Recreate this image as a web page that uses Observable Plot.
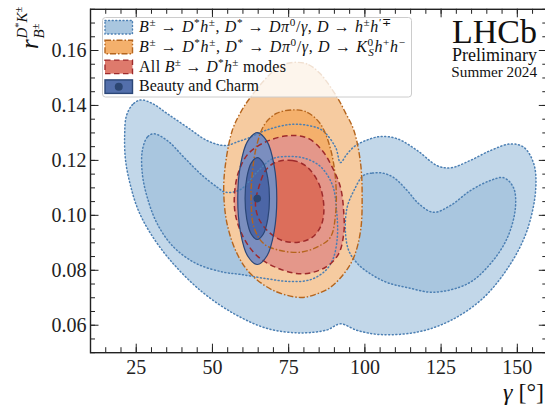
<!DOCTYPE html>
<html><head><meta charset="utf-8">
<script src="https://cdn.jsdelivr.net/npm/d3@7"></script>
<script src="https://cdn.jsdelivr.net/npm/@observablehq/plot@0.6"></script>
<style>
html,body{margin:0;padding:0;background:#fff;overflow:hidden;}
#wrap{position:relative;width:545px;height:412px;overflow:hidden;}
#wrap svg{max-width:none !important;width:560px;height:412px;}
text{white-space:pre;}
</style></head><body><div id="wrap"></div>
<script>
// ---- data: contour outlines, [gamma (deg), r_B] ----
const blueOuter = [[26.4,0.1420],[23.8,0.1403],[21.8,0.1363],[21.2,0.1291],[21.5,0.1200],[23.1,0.1109],[25.7,0.1018],[29.7,0.0934],[36.2,0.0836],[46.1,0.0726],[56.9,0.0643],[68.0,0.0588],[78.9,0.0572],[87.6,0.0583],[92.0,0.0605],[97.5,0.0581],[105.1,0.0566],[117.2,0.0575],[128.1,0.0617],[139.0,0.0701],[147.8,0.0824],[153.2,0.0945],[156.0,0.1090],[155.4,0.1188],[152.1,0.1248],[147.8,0.1260],[141.2,0.1236],[134.6,0.1200],[128.1,0.1173],[123.7,0.1181],[117.2,0.1236],[110.6,0.1279],[105.1,0.1287],[100.2,0.1272],[96.6,0.1251],[94.0,0.1221],[92.0,0.1192],[90.4,0.1247],[86.1,0.1309],[81.5,0.1327],[75.6,0.1331],[67.4,0.1309],[61.5,0.1280],[58.5,0.1269],[54.3,0.1254],[48.3,0.1272],[41.7,0.1321],[35.2,0.1370],[30.3,0.1407]];
const blueInnerLeft = [[30.7,0.1297],[28.6,0.1284],[27.0,0.1236],[27.0,0.1151],[28.6,0.1066],[31.9,0.0969],[37.3,0.0884],[44.8,0.0824],[53.7,0.0793],[59.2,0.0785],[68.0,0.0769],[75.6,0.0759],[82.2,0.0766],[87.1,0.0799],[89.7,0.0846],[91.0,0.0927],[90.7,0.1018],[89.4,0.1109],[85.4,0.1178],[79.9,0.1209],[75.0,0.1214],[69.7,0.1206],[64.5,0.1156],[59.2,0.1094],[54.3,0.1084],[51.6,0.1102],[46.1,0.1151],[40.6,0.1212],[35.2,0.1272]];
const blueInnerRight = [[99.5,0.1145],[102.5,0.1154],[105.8,0.1154],[109.4,0.1138],[113.9,0.1090],[117.6,0.1043],[122.5,0.1011],[128.1,0.1036],[134.6,0.1090],[141.2,0.1127],[145.5,0.1137],[148.7,0.1102],[149.4,0.1030],[146.8,0.0920],[141.2,0.0824],[133.7,0.0751],[122.5,0.0720],[114.0,0.0737],[107.4,0.0755],[101.8,0.0787],[97.6,0.0824],[94.7,0.0872],[93.6,0.0945],[94.2,0.1030],[96.4,0.1090]];
const orangeOuter = [[77.8,0.1557],[81.5,0.1549],[85.4,0.1515],[90.9,0.1430],[93.6,0.1374],[96.4,0.1309],[98.6,0.1188],[99.1,0.1066],[98.6,0.0945],[96.4,0.0848],[93.1,0.0787],[88.7,0.0738],[83.8,0.0712],[78.9,0.0701],[70.1,0.0726],[62.5,0.0787],[58.1,0.0860],[54.8,0.0969],[53.7,0.1090],[54.3,0.1188],[56.5,0.1309],[59.2,0.1374],[62.5,0.1430],[69.0,0.1515],[73.3,0.1549]];
const orangeInner = [[76.7,0.1384],[81.1,0.1375],[85.4,0.1333],[88.7,0.1243],[90.4,0.1127],[90.4,0.1007],[88.7,0.0920],[84.8,0.0887],[78.9,0.0866],[72.3,0.0872],[66.9,0.0896],[63.6,0.0957],[62.7,0.1054],[63.0,0.1145],[64.5,0.1254],[67.1,0.1331],[71.0,0.1371]];
const redOuter = [[76.2,0.1291],[81.6,0.1279],[86.0,0.1236],[89.3,0.1175],[92.0,0.1102],[93.1,0.1006],[93.1,0.0937],[91.4,0.0860],[87.1,0.0811],[79.4,0.0787],[70.7,0.0811],[64.5,0.0854],[60.2,0.0919],[57.6,0.0999],[57.2,0.1072],[58.5,0.1156],[61.8,0.1225],[68.4,0.1272]];
const redInner = [[70.7,0.1193],[76.2,0.1200],[80.5,0.1181],[83.8,0.1139],[86.0,0.1078],[86.5,0.1006],[85.4,0.0957],[82.7,0.0920],[78.3,0.0902],[72.9,0.0908],[68.5,0.0939],[65.2,0.0988],[64.1,0.1042],[65.2,0.1102],[67.4,0.1163]];
const bcOuter = [[71.1,0.1061],[70.24,0.1181],[67.9,0.1269],[64.7,0.1301],[61.5,0.1269],[59.16,0.1181],[58.3,0.1061],[59.16,0.0941],[61.5,0.0853],[64.7,0.0821],[67.9,0.0853],[70.24,0.0941]];
const bcInner = [[68.7,0.1061],[68.16,0.1135],[66.7,0.1190],[64.7,0.1210],[62.7,0.1190],[61.24,0.1135],[60.7,0.1061],[61.24,0.0987],[62.7,0.0932],[64.7,0.0912],[66.7,0.0932],[68.16,0.0987]];
const bcCenter = [[64.7,0.1061]];

const xMajor = [25,50,75,100,125,150];
const yMajor = [0.06,0.08,0.10,0.12,0.14,0.16];
const xMinor = d3.range(10, 160.01, 5);
const yMinor = d3.range(0.05, 0.17501, 0.005);
const xDomain = [10,160], yDomain = [0.05,0.175];

const legendItems = [
  [["B","i"],["±","^"],[" → ",""],["D","i"],["*","^"],["h","i"],["±","^"],[", ",""],["D","i"],["*","^"],[" → ",""],["D","i"],["π","i"],["0","^"],["/",""],["γ","i"],[", ",""],["D","i"],[" → ",""],["h","i"],["±","^"],["h","i"],["′∓","^"]],
  [["B","i"],["±","^"],[" → ",""],["D","i"],["*","^"],["h","i"],["±","^"],[", ",""],["D","i"],["*","^"],[" → ",""],["D","i"],["π","i"],["0","^"],["/",""],["γ","i"],[", ",""],["D","i"],[" → ",""],["K","i"],["0","^"],["S","i_",-5.6],["h","i"],["+","^"],["h","i"],["−","^"]],
  [["All ",""],["B","i"],["±","^"],[" → ",""],["D","i"],["*","^"],["h","i"],["±","^"],[" modes",""]],
  [["Beauty and Charm",""]]
];
const legendWidths = [252, 266, 147, 120];
const lhcbLines = ["LHCb","Preliminary","Summer 2024"];

// ---- colours & styles ----
const C = {
  bOut:"#c2d7e9", bIn:"#a9c6df", bLine:"#4b7fb3",
  oOut:"#f6cba0", oIn:"#f4b06c", oLine:"#b5651d",
  rOut:"#e4978a", rIn:"#dc6e5b", rLine:"#9e2a2b",
  eOut:"#7b8ebf", eIn:"#4c66a7", eLine:"#2b4677", dot:"#2c4672"
};
const serif = "'Liberation Serif', 'Times New Roman', serif";

const W = 560, H = 412;
const mL = 90, mR = W - 547.3, mT = 8.8, mB = H - 352.2;
const plotW = W - mL - mR, plotH = H - mT - mB;
const MAJ = 8.5, MIN = 5;

const X = d => d[0], Y = d => d[1];
const fillM = (data, fill) => Plot.line(data, {x: X, y: Y, curve: "catmull-rom-closed", fill, stroke: "none"});
const lineM = (data, stroke, dash, w, cap) => Plot.line(data, {x: X, y: Y, curve: "catmull-rom-closed", fill: "none", stroke, strokeWidth: w, strokeDasharray: dash, strokeLinecap: cap});

const chart = Plot.plot({
  width: W, height: H,
  marginLeft: mL, marginRight: mR, marginTop: mT, marginBottom: mB,
  x: {domain: xDomain},
  y: {domain: yDomain},
  style: {background: "#fff", maxWidth: "none"},
  marks: [
    fillM(blueOuter, C.bOut),
    fillM(blueInnerLeft, C.bIn),
    fillM(blueInnerRight, C.bIn),
    fillM(orangeOuter, C.oOut),
    fillM(orangeInner, C.oIn),
    fillM(redOuter, C.rOut),
    fillM(redInner, C.rIn),
    fillM(bcOuter, C.eOut),
    fillM(bcInner, C.eIn),
    lineM(blueOuter, C.bLine, "1,2.6", 1.5, "round"),
    lineM(blueInnerLeft, C.bLine, "1,2.6", 1.5, "round"),
    lineM(blueInnerRight, C.bLine, "1,2.6", 1.5, "round"),
    lineM(orangeOuter, C.oLine, "6,2,1.5,2", 1.4, "butt"),
    lineM(orangeInner, C.oLine, "6,2,1.5,2", 1.4, "butt"),
    lineM(redOuter, C.rLine, "5.5,3.5", 1.5, "butt"),
    lineM(redInner, C.rLine, "5.5,3.5", 1.5, "butt"),
    lineM(bcOuter, C.eLine, null, 1.2, "round"),
    lineM(bcInner, C.eLine, null, 1.2, "round"),
    Plot.dot(bcCenter, {x: X, y: Y, r: 3.8, fill: C.dot, stroke: "none"}),
    // inward ticks on all four sides
    Plot.tickX(xMajor, {x: d => d, insetTop: plotH - MAJ, stroke: "#222"}),
    Plot.tickX(xMajor, {x: d => d, insetBottom: plotH - MAJ, stroke: "#222"}),
    Plot.tickX(xMinor, {x: d => d, insetTop: plotH - MIN, stroke: "#222"}),
    Plot.tickX(xMinor, {x: d => d, insetBottom: plotH - MIN, stroke: "#222"}),
    Plot.tickY(yMajor, {y: d => d, insetRight: plotW - MAJ, stroke: "#222"}),
    Plot.tickY(yMajor, {y: d => d, insetLeft: plotW - MAJ, stroke: "#222"}),
    Plot.tickY(yMinor, {y: d => d, insetRight: plotW - MIN, stroke: "#222"}),
    Plot.tickY(yMinor, {y: d => d, insetLeft: plotW - MIN, stroke: "#222"}),
    Plot.frame({stroke: "#222", strokeWidth: 1.4}),
    Plot.axisX({ticks: xMajor, tickSize: 0, tickPadding: 7, label: null, fontSize: 20, fontFamily: serif, fill: "#222", tickFormat: d3.format("d")}),
    Plot.axisY({ticks: yMajor, tickSize: 0, tickPadding: 4, label: null, fontSize: 20, fontFamily: serif, fill: "#222", tickFormat: d3.format(".2f")})
  ]
});
chart.style.maxWidth = "none";
chart.setAttribute("width", W);
document.getElementById("wrap").appendChild(chart);

const svg = d3.select(chart);

// ---- LHCb label ----
const lh = [[34, 43.3], [18, 60.8], [15.2, 77.3]];
lhcbLines.forEach((s, i) => {
  svg.append("text").attr("x", 537).attr("y", lh[i][1]).attr("text-anchor", "end")
    .attr("font-family", serif).attr("font-size", lh[i][0]).attr("fill", "#111").text(s);
});

// ---- math text helper ----
function mathText(g, x, y, segs, size, len) {
  const t = g.append("text").attr("x", x).attr("y", y).attr("font-family", serif)
    .attr("text-anchor", "start").attr("font-size", size).attr("fill", "#111");
  let shift = 0;
  for (const [str, kind, dx] of segs) {
    let target = 0, fs = size;
    if (kind.includes("^")) { target = -0.36 * size; fs = 0.7 * size; }
    if (kind.includes("_")) { target = 0.24 * size; fs = 0.7 * size; }
    const sp = t.append("tspan").text(str).attr("font-size", fs).attr("dy", target - shift);
    shift = target;
    if (kind.includes("i")) sp.attr("font-style", "italic");
    if (dx) sp.attr("dx", dx);
  }
  if (len) t.attr("textLength", len).attr("lengthAdjust", "spacing");
  return t;
}

// ---- legend ----
const lg = svg.append("g").attr("text-anchor", "start");
lg.append("rect").attr("x", 102.5).attr("y", 17.5).attr("width", 309).attr("height", 79.5).attr("rx", 3)
  .attr("fill", "rgba(255,255,255,0.8)").attr("stroke", "#cccccc").attr("stroke-width", 1);
const patch = [
  {fill: C.bIn, stroke: C.bLine, dash: "1,2.6", cap: "round"},
  {fill: C.oIn, stroke: C.oLine, dash: "6,2,1.5,2", cap: "butt"},
  {fill: "#de7a6c", stroke: C.rLine, dash: "5.5,3.5", cap: "butt"},
  {fill: "#536fab", stroke: C.eLine, dash: null, cap: "butt"}
];
legendItems.forEach((segs, i) => {
  const y0 = 20.5 + i * 19.8;
  lg.append("rect").attr("x", 105).attr("y", y0).attr("width", 27.5).attr("height", 13.5)
    .attr("fill", patch[i].fill).attr("stroke", patch[i].stroke).attr("stroke-width", 1.4)
    .attr("stroke-dasharray", patch[i].dash).attr("stroke-linecap", patch[i].cap);
  if (i === 3) lg.append("circle").attr("cx", 118.75).attr("cy", y0 + 6.75).attr("r", 4).attr("fill", C.dot);
  mathText(lg, 139, y0 + 11.5, segs, 16, legendWidths[i]);
});

// ---- axis labels ----
const xl = svg.append("text").attr("x", 544).attr("y", 400).attr("text-anchor", "end")
  .attr("font-family", serif).attr("font-size", 24).attr("fill", "#111");
xl.append("tspan").attr("font-style", "italic").text("γ");
xl.append("tspan").text(" [°]");

const yl = svg.append("g").attr("transform", "translate(38,49) rotate(-90)").attr("text-anchor", "start");
yl.append("text").attr("x", 0).attr("y", 0).attr("font-family", serif).attr("font-size", 25)
  .attr("font-style", "italic").attr("fill", "#111").text("r");
const sub = yl.append("text").attr("x", 10.5).attr("y", 6).attr("font-family", serif).attr("font-size", 15).attr("fill", "#111");
sub.append("tspan").attr("font-style", "italic").text("B");
sub.append("tspan").attr("font-size", 10.5).attr("dy", -5).text("±");
const sup = yl.append("text").attr("x", 10.5).attr("y", -11).attr("font-family", serif).attr("font-size", 15).attr("fill", "#111");
sup.append("tspan").attr("font-style", "italic").text("D");
sup.append("tspan").attr("font-size", 10.5).attr("dy", -5).text("*");
sup.append("tspan").attr("font-style", "italic").attr("dy", 5).text("K");
sup.append("tspan").attr("font-size", 10.5).attr("dy", -5).text("±");
</script></body></html>
